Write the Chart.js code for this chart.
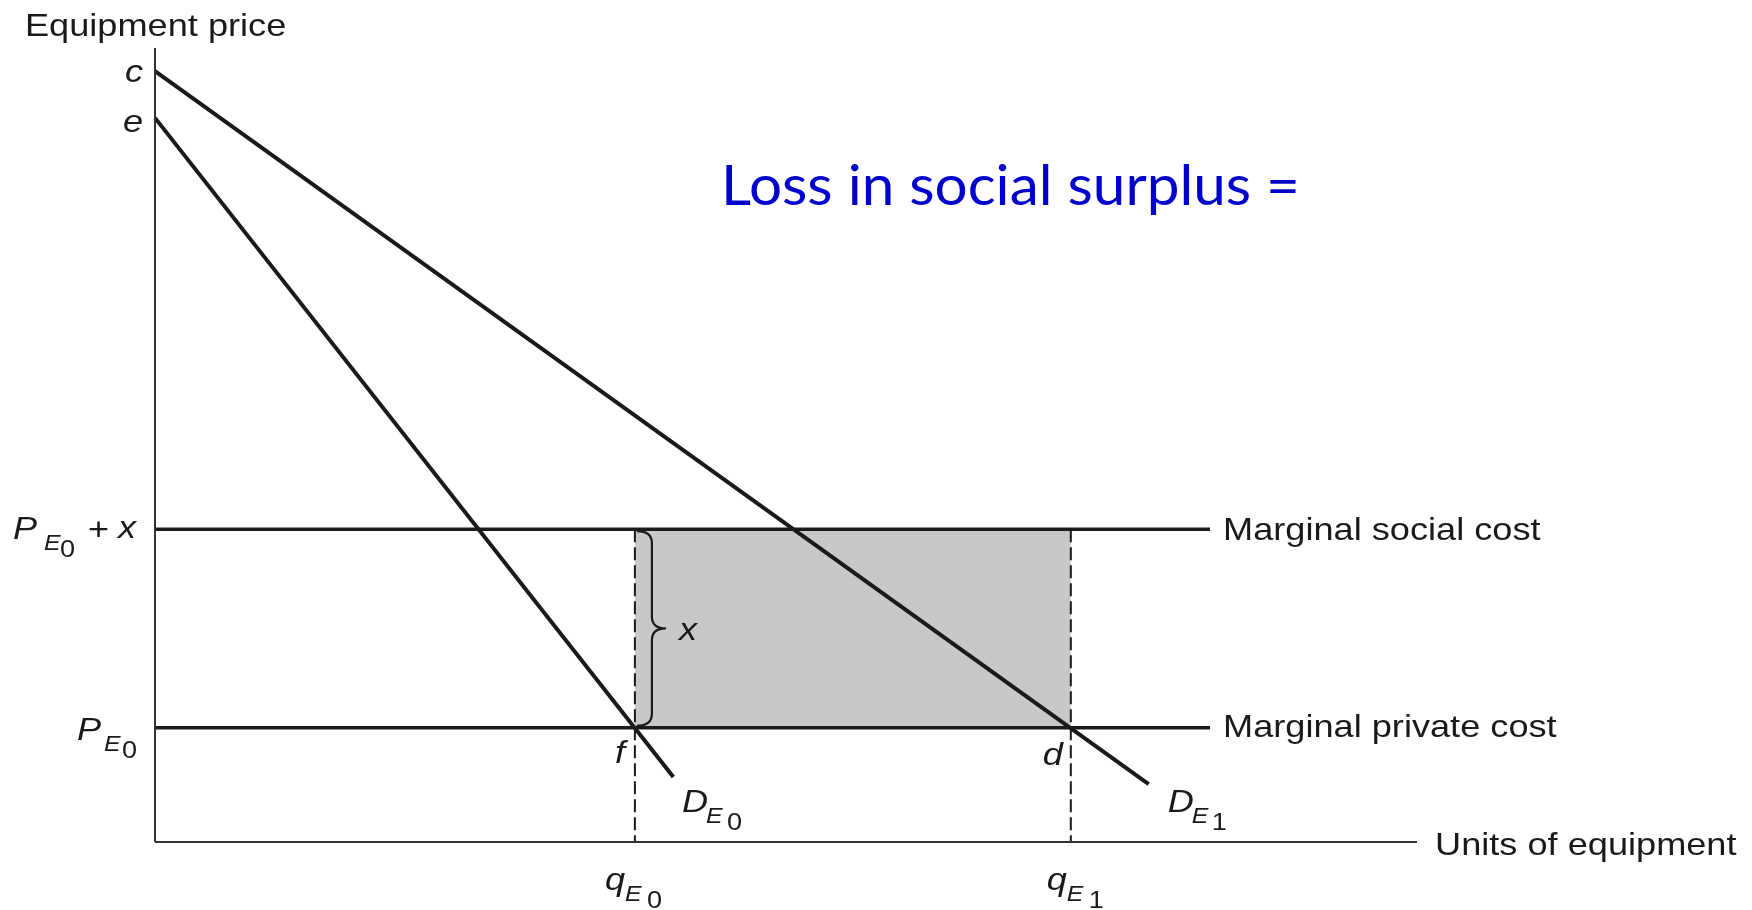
<!DOCTYPE html>
<html>
<head>
<meta charset="utf-8">
<script src="https://cdn.jsdelivr.net/npm/chart.js@4.4.1/dist/chart.umd.min.js"></script>
<style>
    html, body { margin: 0; padding: 0; background: #fff; }
    #wrap { width: 1752px; height: 910px; position: relative; }
</style>
</head>
<body>
<div id="wrap"><canvas id="surplusChart"></canvas></div>
<script>
// values (x: units of equipment, y: equipment price)
const quantities = [52.4, 100];          // q_E0, q_E1
const costLevels = [14.4, 39.4];         // P_E0 (private), P_E0 + x (social)
const costLineEnd = 115.2;
const demandE0 = [{x: 0, y: 91.2}, {x: 56.6, y: 8.2}];
const demandE1 = [{x: 0, y: 97.1}, {x: 108.5, y: 7.3}];
const axisMax = [137.8, 100];
const costLabels = ['Marginal private cost', 'Marginal social cost'];
const axisTitles = ['Units of equipment', 'Equipment price'];
const priceLetters = ['c', 'e'];
const pointLetters = ['f', 'd'];
const lossTitle = 'Loss in social surplus =';

const INK = '#1a1a1a';
const SANS = '"Liberation Sans", Arial, sans-serif';
const STRETCH = 1.13;
const ITAL = 'italic 32px ' + SANS;

function put(ctx, str, x, y, font, align) {
    ctx.save();
    ctx.font = font;
    ctx.fillStyle = INK;
    ctx.textAlign = align || 'left';
    ctx.textBaseline = 'alphabetic';
    ctx.translate(x, y);
    ctx.scale(STRETCH, 1);
    ctx.fillText(str, 0, 0);
    ctx.restore();
}

// letter with two-level subscript, e.g. P_{E_0}
function subLabel(ctx, main, sub, idx, x, y, dE, dN) {
    put(ctx, main, x, y, ITAL);
    put(ctx, sub, x + dE, y + 11, 'italic 22px ' + SANS);
    put(ctx, idx, x + dN, y + 18, '24px ' + SANS);
}

const annotations = {
    id: 'annotations',
    afterDatasetsDraw(chart) {
        const ctx = chart.ctx;
        const xs = chart.scales.x, ys = chart.scales.y;
        const ax = xs.getPixelForValue(0);
        const ay = ys.getPixelForValue(0);
        const q0 = xs.getPixelForValue(quantities[0]);
        const q1 = xs.getPixelForValue(quantities[1]);
        const mpc = ys.getPixelForValue(costLevels[0]);
        const msc = ys.getPixelForValue(costLevels[1]);
        const lineEnd = xs.getPixelForValue(costLineEnd);

        // brace between the two cost lines
        const yT = msc + 2, yB = mpc - 2, ym = (yT + yB) / 2, r = 12;
        const x0 = q0 + 2, sx = q0 + 17, tx = q0 + 31;
        ctx.save();
        ctx.strokeStyle = INK;
        ctx.lineWidth = 2.2;
        ctx.beginPath();
        ctx.moveTo(x0, yT);
        ctx.quadraticCurveTo(sx, yT, sx, yT + r);
        ctx.lineTo(sx, ym - r);
        ctx.quadraticCurveTo(sx, ym, tx, ym);
        ctx.quadraticCurveTo(sx, ym, sx, ym + r);
        ctx.lineTo(sx, yB - r);
        ctx.quadraticCurveTo(sx, yB, x0, yB);
        ctx.stroke();
        ctx.restore();
        put(ctx, 'x', q0 + 44, ym + 12, ITAL);

        // axis titles
        put(ctx, axisTitles[1], 25, 36, '32px ' + SANS);
        put(ctx, axisTitles[0], lineEnd + 225, ay + 13, '32px ' + SANS);

        // cost line labels
        put(ctx, costLabels[1], lineEnd + 13, msc + 11, '32px ' + SANS);
        put(ctx, costLabels[0], lineEnd + 13, mpc + 9, '32px ' + SANS);

        // price intercepts
        put(ctx, priceLetters[0], ax - 12, ys.getPixelForValue(demandE0[0].y) - 36, ITAL, 'right');
        put(ctx, priceLetters[1], ax - 12, ys.getPixelForValue(demandE0[0].y) + 14, ITAL, 'right');

        // P_E0 + x and P_E0
        subLabel(ctx, 'P', 'E', '0', ax - 142, msc + 10, 31, 47);
        put(ctx, '+', ax - 67, msc + 11, '32px ' + SANS);
        put(ctx, 'x', ax - 37, msc + 9, ITAL);
        subLabel(ctx, 'P', 'E', '0', ax - 78, mpc + 12, 27, 45);

        // intersection points
        put(ctx, pointLetters[0], q0 - 20, mpc + 35, ITAL);
        put(ctx, pointLetters[1], q1 - 28, mpc + 37, ITAL);

        // demand curve labels
        subLabel(ctx, 'D', 'E', '0', q0 + 47, mpc + 84, 24, 45);
        subLabel(ctx, 'D', 'E', '1', q1 + 97, mpc + 84, 24, 44);

        // quantity labels under the axis
        subLabel(ctx, 'q', 'E', '0', q0 - 30, ay + 48, 20, 42);
        subLabel(ctx, 'q', 'E', '1', q1 - 24, ay + 48, 20, 42);

        // blue overlay title
        ctx.save();
        ctx.font = '56px Lato, "Open Sans", sans-serif';
        ctx.fillStyle = '#0000cc';
        ctx.textBaseline = 'alphabetic';
        const w = ctx.measureText(lossTitle).width;
        ctx.translate(721, 205);
        ctx.scale(579 / w, 1);
        ctx.fillText(lossTitle, 0, 0);
        ctx.restore();
    }
};

const line = (data, opts) => Object.assign({
    data: data,
    showLine: true,
    borderColor: INK,
    borderWidth: 4,
    pointRadius: 0,
    fill: false,
    clip: false,
    order: 1,
}, opts || {});

const config = {
    type: 'scatter',
    data: {
        datasets: [
            line([{x: 0, y: 0}, {x: 0, y: axisMax[1]}], {borderWidth: 2, borderColor: '#333'}),
            line([{x: 0, y: 0}, {x: axisMax[0], y: 0}], {borderWidth: 2, borderColor: '#333'}),
            line(demandE1),
            line(demandE0),
            line([{x: 0, y: costLevels[1]}, {x: costLineEnd, y: costLevels[1]}], {borderWidth: 3.5}),
            line([{x: 0, y: costLevels[0]}, {x: costLineEnd, y: costLevels[0]}], {borderWidth: 3.5}),
            line([{x: quantities[0], y: costLevels[1]}, {x: quantities[0], y: 0}], {borderWidth: 2, borderDash: [13, 5], order: 4}),
            line([{x: quantities[1], y: costLevels[1]}, {x: quantities[1], y: 0}], {borderWidth: 2, borderDash: [13, 5], order: 4}),
            line([{x: quantities[0], y: costLevels[1]}, {x: quantities[1], y: costLevels[1]}], {
                borderWidth: 0,
                borderColor: 'rgba(0,0,0,0)',
                backgroundColor: '#c8c8c8',
                fill: {value: costLevels[0]},
                order: 5,
            }),
        ]
    },
    options: {
        responsive: true,
        maintainAspectRatio: false,
        animation: false,
        layout: {padding: {left: 155, right: 335, top: 48, bottom: 68}},
        plugins: {
            legend: {display: false},
            tooltip: {enabled: false},
        },
        scales: {
            x: {type: 'linear', min: 0, max: axisMax[0], display: false},
            y: {type: 'linear', min: 0, max: axisMax[1], display: false},
        },
    },
    plugins: [annotations],
};

new Chart(document.getElementById('surplusChart'), config);
</script>
</body>
</html>
